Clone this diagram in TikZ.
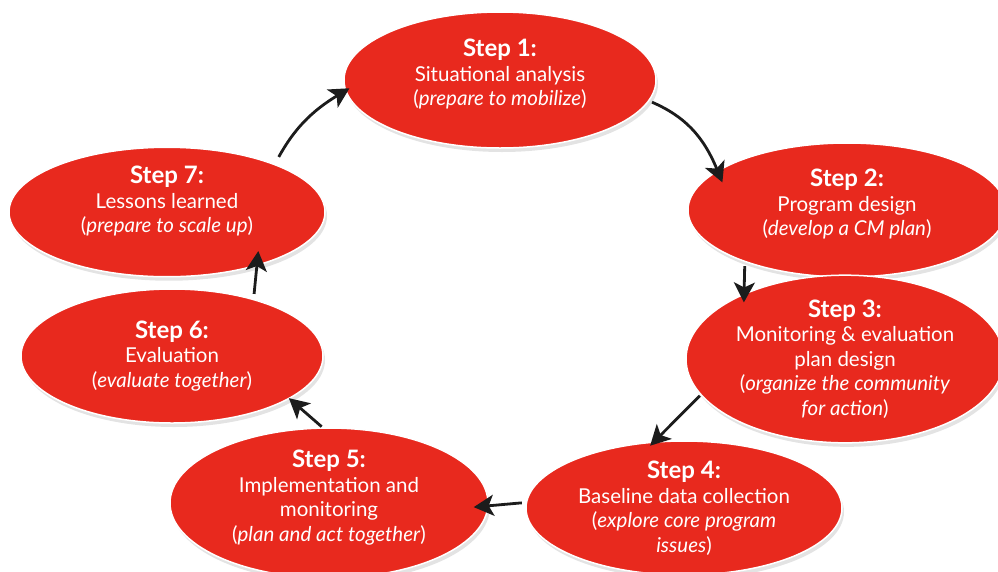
\documentclass[tikz,border=0pt]{standalone}
\usepackage{fontspec}
\setmainfont{Lato}
\usetikzlibrary{shapes.geometric, arrows.meta, positioning, shadows}
\definecolor{stepred}{HTML}{E8291E}
\definecolor{arrowdark}{HTML}{1C1C1C}
\newcommand{\steptitle}[1]{\textbf{\fontsize{24}{24.5}\selectfont #1}}

\begin{document}
\begin{tikzpicture}[
  x=1pt, y=-1pt,
  stepnode/.style={
    ellipse, inner sep=0pt,
    draw=white, line width=1.5pt, fill=stepred,
    text=white, align=center,
    font=\fontsize{20.5}{24.5}\selectfont,
    drop shadow={opacity=0.22, shadow xshift=2pt, shadow yshift=-4pt}
  },
  lift/.style={text depth=#1},
  cyclearrow/.style={line width=2.8pt, arrowdark, -{Stealth[length=20pt, width=21pt, inset=5pt]}}
]
  \useasboundingbox (0,0) rectangle (998,571);

  % Steps of the cycle
  \node[stepnode, lift=15pt, minimum width=312, minimum height=136] (s1) at (500,80)
    {\steptitle{Step 1:}\\Situational analysis\\(\textit{prepare to mobilize})};
  \node[stepnode, lift=15pt, minimum width=318, minimum height=134] (s2) at (847,210)
    {\steptitle{Step 2:}\\Program design\\(\textit{develop a CM plan})};
  \node[stepnode, minimum width=318, minimum height=138] (s3) at (845,359)
    {\steptitle{Step 3:}\\Monitoring \& evaluation\\plan design\\(\textit{organize the community}\\\textit{for action})};
  \node[stepnode, minimum width=316, minimum height=134] (s4) at (684,508)
    {\steptitle{Step 4:}\\Baseline data collection\\(\textit{explore core program}\\\textit{issues})};
  \node[stepnode, lift=15pt, minimum width=318, minimum height=134] (s5) at (329,503)
    {\steptitle{Step 5:}\\Implementation and\\monitoring\\(\textit{plan and act together})};
  \node[stepnode, minimum width=302, minimum height=134] (s6) at (172,356)
    {\steptitle{Step 6:}\\Evaluation\\(\textit{evaluate together})};
  \node[stepnode, lift=25pt, minimum width=316, minimum height=126] (s7) at (167,212)
    {\steptitle{Step 7:}\\Lessons learned\\(\textit{prepare to scale up})};

  % Arrows round the cycle
  \draw[cyclearrow, shorten <=8pt, shorten >=-5pt] (s7.24) to[bend left=15] (s1.184);
  \draw[cyclearrow, shorten <=3pt, shorten >=-13pt] (s1.-8) to[bend left=22] (s2.163);
  \draw[cyclearrow, shorten <=4pt, shorten >=-9pt] (s2.207) -- (s3.147);
  \draw[cyclearrow, shorten <=1pt, shorten >=-6pt] (s3.194) -- (s4.114);
  \draw[cyclearrow, shorten <=4pt, shorten >=-15pt] (s4.178) -- (s5.-1);
  \draw[cyclearrow, shorten <=1pt, shorten >=-1pt] (s5.95) -- (s6.-20);
  \draw[cyclearrow, shorten <=5pt, shorten >=-15pt] (s6.35) -- (s7.-31);
\end{tikzpicture}
\end{document}
